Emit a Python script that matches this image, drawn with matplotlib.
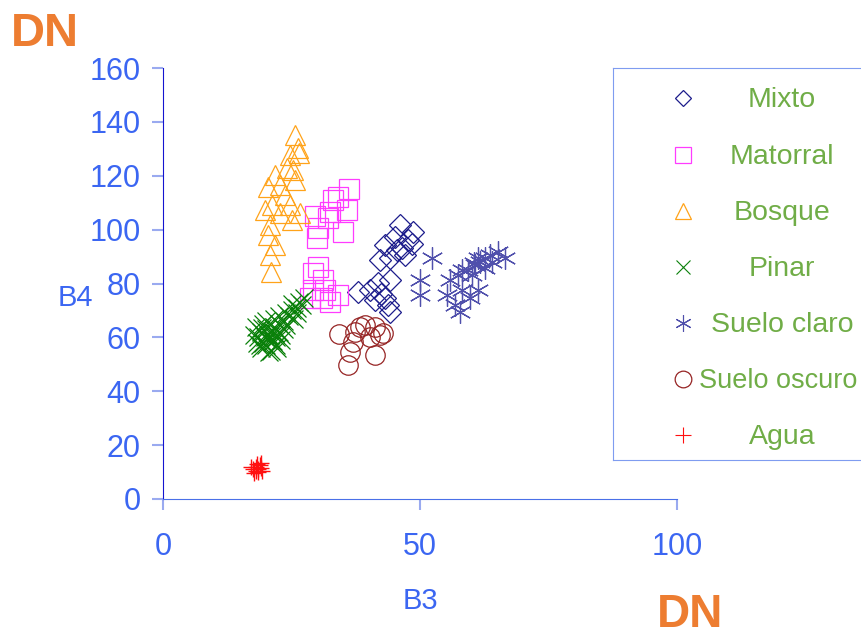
import matplotlib.pyplot as plt

plt.rcParams['font.family'] = ['Liberation Sans', 'DejaVu Sans']

# B3 / B4 digital numbers for each land-cover class
mixto_b3 = [46.1, 47.7, 45.1, 48.5, 45.5, 43.2, 47.1, 44.2, 42.2, 48.6, 46.5,
            37.9, 40.3, 41.8, 44.2, 43.2, 41.2, 43.8, 44.2, 42.5]
mixto_b4 = [101.7, 96.1, 97.3, 94.5, 92.4, 94.3, 90.6, 89.5, 88.7, 99.1, 93.0,
            76.8, 77.6, 80.2, 81.3, 74.6, 73.9, 72.0, 69.4, 76.0]

matorral_b3 = [36.2, 33.1, 32.1, 35.0, 30.2, 30.0, 32.5, 35.8, 29.5, 34.0,
               30.2, 29.2, 31.1, 34.0, 30.9, 32.5, 29.2, 28.6, 31.5]
matorral_b4 = [115.1, 111.0, 104.3, 99.1, 100.6, 96.9, 106.5, 107.3, 105.0, 112.0,
               86.1, 83.9, 81.3, 75.7, 74.6, 73.1, 77.6, 74.6, 77.6]

bosque_b3 = [25.7, 26.3, 24.7, 26.5, 24.1, 25.3, 21.8, 22.8, 20.4, 23.7, 21.2,
             19.8, 24.7, 26.7, 25.1, 20.8, 20.4, 21.8, 20.8, 21.0, 22.8, 25.7]
bosque_b4 = [135.1, 130.3, 127.7, 128.5, 122.9, 122.1, 120.3, 116.6, 115.8, 112.8, 109.1,
             107.3, 109.1, 106.2, 103.6, 101.7, 98.0, 94.3, 90.6, 84.3, 106.2, 118.4]

pinar_b3 = [18.5, 19.0, 19.5, 20.0, 20.5, 21.0, 21.5, 22.0, 22.5, 20.0, 19.0, 21.0,
            22.0, 23.0, 23.5, 18.0, 20.0, 21.5, 19.5, 22.5, 20.8, 21.2, 19.8, 23.0,
            18.2, 23.5, 24.5, 25.0, 26.0, 26.5, 27.0, 25.5, 24.0, 27.5, 25.0, 26.0,
            22.5, 17.8, 24.0, 20.3, 21.7, 19.2, 18.8, 20.6, 22.2, 21.4]
pinar_b4 = [60.0, 62.0, 58.0, 63.0, 61.0, 59.0, 64.0, 60.0, 62.0, 57.0, 56.0, 55.0,
            57.0, 59.0, 63.0, 64.0, 66.0, 67.0, 65.0, 65.0, 60.5, 62.5, 60.0, 61.0,
            58.0, 66.0, 68.0, 70.0, 71.0, 73.0, 72.0, 67.0, 69.0, 74.5, 72.5, 69.0,
            68.0, 61.0, 64.5, 59.5, 61.5, 63.5, 57.0, 54.5, 56.0, 58.5]

claro_b3 = [52.3, 50.0, 50.0, 55.8, 55.3, 56.8, 57.8, 58.2, 59.7, 61.3, 59.3, 60.7,
            61.7, 62.6, 63.6, 65.2, 66.5, 60.1, 58.2, 57.4, 62.6, 61.3, 64.0, 60.5]
claro_b4 = [89.5, 81.3, 75.7, 81.3, 75.7, 72.0, 69.4, 77.6, 74.6, 77.6, 85.0, 86.9,
            88.0, 89.5, 90.6, 91.7, 89.5, 83.1, 85.0, 83.1, 85.7, 89.5, 88.0, 87.5]

oscuro_b3 = [34.2, 37.4, 39.3, 41.2, 42.8, 42.2, 37.0, 36.4, 36.0, 41.2, 38.3, 40.3]
oscuro_b4 = [61.2, 62.0, 64.6, 63.8, 61.6, 60.9, 58.3, 54.6, 49.7, 53.5, 63.8, 60.1]

agua_b3 = [17.5, 18.0, 18.5, 19.0, 18.2, 17.8, 18.8, 19.3, 17.2, 18.5, 18.0, 19.0]
agua_b4 = [11.0, 12.0, 10.0, 11.5, 13.0, 9.5, 12.5, 10.5, 12.0, 11.0, 10.5, 13.5]

classes = ['Mixto', 'Matorral', 'Bosque', 'Pinar', 'Suelo claro', 'Suelo oscuro', 'Agua']
series = [(mixto_b3, mixto_b4), (matorral_b3, matorral_b4), (bosque_b3, bosque_b4),
          (pinar_b3, pinar_b4), (claro_b3, claro_b4), (oscuro_b3, oscuro_b4),
          (agua_b3, agua_b4)]

styles = [
    dict(marker='D', color='#1c1c8c', ms=11, mew=0.9),
    dict(marker='s', color='#ff3cff', ms=14.5, mew=0.9),
    dict(marker='^', color='#ffa31a', ms=15, mew=0.9),
    dict(marker='x', color='#0a800a', ms=13, mew=0.9),
    dict(marker=(6, 2, 0), color='#5050ac', ms=16, mew=0.9),
    dict(marker='o', color='#962424', ms=14, mew=0.9),
    dict(marker='+', color='#ff1010', ms=12, mew=1.0),
]
legend_styles = [
    dict(marker='D', color='#1c1c8c', ms=8, mew=0.9),
    dict(marker='s', color='#ff3cff', ms=11, mew=0.9),
    dict(marker='^', color='#ffa31a', ms=12, mew=0.9),
    dict(marker='x', color='#0a800a', ms=10, mew=0.8),
    dict(marker=(6, 2, 0), color='#5050ac', ms=12, mew=0.8),
    dict(marker='o', color='#962424', ms=12, mew=0.9),
    dict(marker='+', color='#ff1010', ms=12, mew=0.8),
]

tick_blue = '#3b66f2'
label_green = '#70ad47'
dn_orange = '#ed7d31'

W, H = 861, 639
fig = plt.figure(figsize=(W / 100, H / 100), dpi=100)
ax = fig.add_axes([163 / W, (H - 499) / H, 514 / W, 431 / H])

for (x, y), st in zip(series, styles):
    ax.plot(x, y, linestyle='none', mfc='none', mec=st['color'],
            marker=st['marker'], ms=st['ms'], mew=st['mew'])

ax.set_xlim(0, 100)
ax.set_ylim(0, 160)
ax.set_xticks([0, 50, 100])
ax.set_yticks(range(0, 161, 20))
ax.spines['top'].set_visible(False)
ax.spines['right'].set_visible(False)
ax.spines['left'].set_color('#1414d0')
ax.spines['bottom'].set_color('#4a70e8')
ax.tick_params(axis='both', colors='#9aaaf0', labelcolor=tick_blue,
               labelsize=22, length=8, width=1.5, direction='out')
ax.tick_params(axis='x', pad=16)
ax.tick_params(axis='y', pad=8)

fig.text(75 / W, 1 - 298 / H, 'B4', color=tick_blue, fontsize=21,
         ha='center', va='center')
fig.text(420 / W, 1 - 601 / H, 'B3', color=tick_blue, fontsize=21,
         ha='center', va='center')
fig.text(45 / W, 1 - 34 / H, 'DN', color=dn_orange, fontsize=34,
         fontweight='bold', ha='center', va='center')
fig.text(690 / W, 2 / H, 'DN', color=dn_orange, fontsize=33,
         fontweight='bold', ha='center', va='bottom')

# legend box, running off the right edge
lax = fig.add_axes([613 / W, (H - 460) / H, 300 / W, 392 / H])
lax.set_xlim(613, 913)
lax.set_ylim(460, 68)
lax.set_xticks([])
lax.set_yticks([])
for side in ['left', 'top', 'bottom']:
    lax.spines[side].set_color('#7f9cf0')
lax.spines['right'].set_visible(False)

row_y = [98, 155, 211, 267, 323, 379, 435]
text_x = [782, 782, 782, 782, 782, 778, 782]
for name, st, yy, tx in zip(classes, legend_styles, row_y, text_x):
    lax.plot([683], [yy], linestyle='none', mfc='none', mec=st['color'],
             marker=st['marker'], ms=st['ms'], mew=st['mew'])
    size = 19.5 if name == 'Suelo oscuro' else 20.5
    lax.text(tx, yy + 2, name, color=label_green, fontsize=size,
             ha='center', va='center')

fig.savefig('out.png', dpi=100)
